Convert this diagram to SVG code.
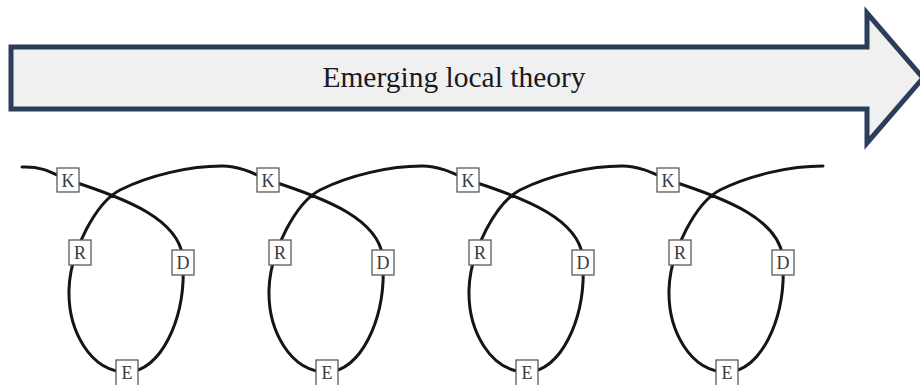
<svg xmlns="http://www.w3.org/2000/svg" width="920" height="385" viewBox="0 0 920 385">
  <style>
    .arrow { fill: #f0f0f1; stroke: #2c3d5a; stroke-width: 5; stroke-linejoin: miter; stroke-miterlimit: 10; }
    .title { font-family: "Liberation Serif", "Times New Roman", serif; font-size: 29.5px; fill: #1a1a22; text-anchor: middle; }
    .curve { fill: none; stroke: #151515; stroke-width: 3; stroke-linecap: round; }
    .box { fill: #ffffff; stroke: #5a5a5a; stroke-width: 1.3; }
    .lbl { font-family: "Liberation Serif", "Times New Roman", serif; font-size: 18px; fill: #3a3a3a; text-anchor: middle; }
  </style>
  <rect width="920" height="385" fill="#ffffff"/>

  <g id="arrow">
    <path class="arrow" d="M 11 47 L 867 47 L 867 13 L 923 78 L 867 143 L 867 109 L 11 109 Z"/>
    <text class="title" x="454" y="87">Emerging local theory</text>
  </g>

  <g id="connectors">
    <path class="curve" d="M 22 167
      C 45 166, 55 175, 68 180
      C 125 198, 183 220, 183 262
      C 186 320, 160 372, 127 372
      C 90 372, 68 330, 69 290
      C 70 250, 97 202, 120 190
      C 150 175, 190 166, 222 166
      C 240 166, 255 174, 268 180
      C 325 198, 383 220, 383 262
      C 386 320, 360 372, 327 372
      C 290 372, 268 330, 269 290
      C 270 250, 297 202, 320 190
      C 350 175, 390 166, 422 166
      C 440 166, 455 174, 468 180
      C 525 198, 583 220, 583 262
      C 586 320, 560 372, 527 372
      C 490 372, 468 330, 469 290
      C 470 250, 497 202, 520 190
      C 550 175, 590 166, 622 166
      C 640 166, 655 174, 668 180
      C 725 198, 783 220, 783 262
      C 786 320, 760 372, 727 372
      C 690 372, 668 330, 669 290
      C 670 250, 697 202, 720 190
      C 750 175, 790 166, 823 166"/>
  </g>

  <g id="loop1">
    <g id="K1"><rect class="box" x="57" y="168" width="22" height="24"/><text class="lbl" x="68" y="186.5">K</text></g>
    <g id="R1"><rect class="box" x="69" y="240" width="22" height="25"/><text class="lbl" x="80" y="259">R</text></g>
    <g id="D1"><rect class="box" x="172" y="250" width="22" height="25"/><text class="lbl" x="183" y="269">D</text></g>
    <g id="E1"><rect class="box" x="116" y="360" width="22" height="26"/><text class="lbl" x="127" y="379">E</text></g>
  </g>
  <g id="loop2">
    <g id="K2"><rect class="box" x="257" y="168" width="22" height="24"/><text class="lbl" x="268" y="186.5">K</text></g>
    <g id="R2"><rect class="box" x="269" y="240" width="22" height="25"/><text class="lbl" x="280" y="259">R</text></g>
    <g id="D2"><rect class="box" x="372" y="250" width="22" height="25"/><text class="lbl" x="383" y="269">D</text></g>
    <g id="E2"><rect class="box" x="316" y="360" width="22" height="26"/><text class="lbl" x="327" y="379">E</text></g>
  </g>
  <g id="loop3">
    <g id="K3"><rect class="box" x="457" y="168" width="22" height="24"/><text class="lbl" x="468" y="186.5">K</text></g>
    <g id="R3"><rect class="box" x="469" y="240" width="22" height="25"/><text class="lbl" x="480" y="259">R</text></g>
    <g id="D3"><rect class="box" x="572" y="250" width="22" height="25"/><text class="lbl" x="583" y="269">D</text></g>
    <g id="E3"><rect class="box" x="516" y="360" width="22" height="26"/><text class="lbl" x="527" y="379">E</text></g>
  </g>
  <g id="loop4">
    <g id="K4"><rect class="box" x="657" y="168" width="22" height="24"/><text class="lbl" x="668" y="186.5">K</text></g>
    <g id="R4"><rect class="box" x="669" y="240" width="22" height="25"/><text class="lbl" x="680" y="259">R</text></g>
    <g id="D4"><rect class="box" x="772" y="250" width="22" height="25"/><text class="lbl" x="783" y="269">D</text></g>
    <g id="E4"><rect class="box" x="716" y="360" width="22" height="26"/><text class="lbl" x="727" y="379">E</text></g>
  </g>
</svg>
